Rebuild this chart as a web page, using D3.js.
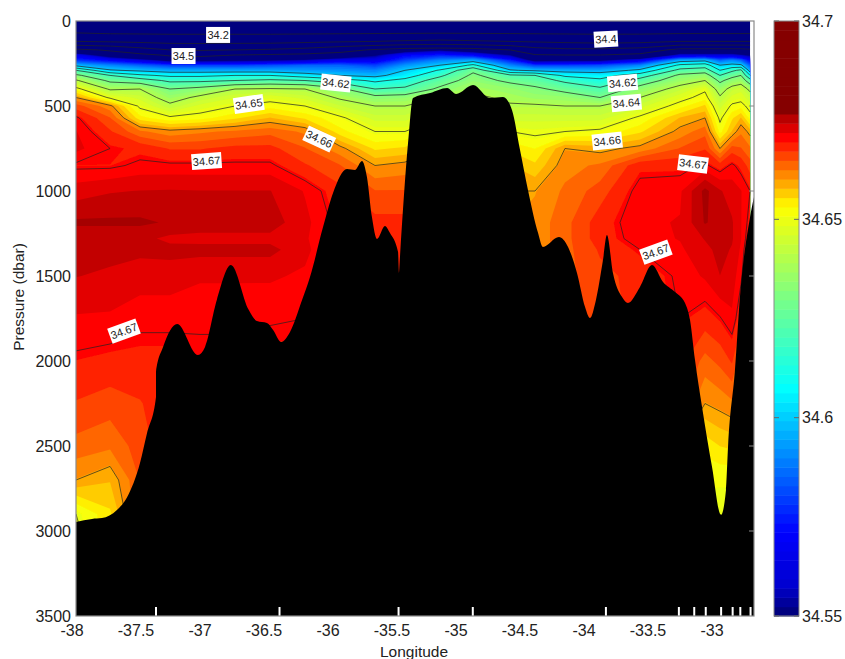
<!DOCTYPE html>
<html>
<head>
<meta charset="utf-8">
<script src="https://cdn.jsdelivr.net/npm/d3@7"></script>
<style>
  html, body { margin: 0; padding: 0; background: #fff; }
  text { font-family: "Liberation Sans", Arial, sans-serif; fill: #222; }
</style>
</head>
<body>
<div id="chart-area"></div>
<script>
// station longitudes (columns of the section)
var stationLon = [-38, -37.734, -37.5, -37.266, -37.031, -36.758, -36.484, -36.211, -35.938, -35.664, -35.43, -35.156,
  -34.898, -34.609, -34.414, -34.18, -33.906, -33.594, -33.281, -33.086, -32.969, -32.875, -32.805, -32.734];

// pressure levels (rows of the section)
var levelPressure = [0, 60, 120, 170, 200, 230, 260, 290, 320, 350, 400, 450, 500, 570, 650, 750, 850, 1000, 1185,
  1280, 1345, 1500, 1750, 2000, 2250, 2500, 2700, 2900, 3100];

// salinity, one profile per station, in 0.001 above 34
var salinityProfiles = [
  [100,180,300,520,565,578,597,620,632,641,652,660,666,670.5,672,672.5,669.5,673,677,675,675,674.3,671.6,669.5,667,664,660,650,648],
  [100,170,290,490,540,570,590,601,620,628,639,649,661,665,667.5,670,669.5,674,677,675,675,673.8,671.5,669,666,663,658,655,655],
  [100,170,280,440,520,560,585,598,612,625,640,645,649,654,663,669,670.5,674.3,677,675,674.8,673,670.5,669,667,666,665,665,665],
  [100,170,270,400,490,545,580,595,608,618,630,636,642,651,661,667,670.5,674.4,676.3,673.6,675,673,670.5,669,669,669,669,669,669],
  [100,170,270,390,480,545,580,595,608,618,633,642,647,652,662,667,670.5,674.3,675.5,673.5,675,672.2,670.3,669.5,669.5,669.5,669.5,669.5,669.5],
  [100,170,270,400,500,548,580,595,610,620,640,646,650,655,663,668,670.5,674.3,675.5,673.5,675,672.2,670.3,669.5,669.5,669.5,669.5,669.5,669.5],
  [100,170,270,410,510,550,582,595,610,622,641,648,652,658,664,668,670.5,674.3,675.5,673.5,675,672.2,670.2,669,669,669,669,669,669],
  [100,170,280,430,520,555,585,593,605,620,640,645,650,655,662,665,667.5,671.7,672.5,672.2,672.5,671.5,670,669,669,669,669,669,669],
  [100,170,290,470,530,565,585,592,600,615,632,639,644,651,654,661,665,668,669,669,669,669,669,669,669,669,669,669,669],
  [100,170,300,510,550,565,580,590,597,608,620,633,640,645,650,655,660,665,668,669,669,669,669,669,669,669,669,669,669],
  [100,170,310,540,570,580,592,600,605,613,622,634,640,645,650,656,661,665,668,668,668,668,668,668,668,668,668,668,668],
  [100,170,320,550,575,590,600,611,618,625,632,640,645,650,655,660,665,668,668,668,668,668,668,668,668,668,668,668,668],
  [100,170,310,540,570,595,612,628,632,634,638,642,645,650,655,660,664,666,666,666,666,666,666,666,666,666,666,666,666],
  [100,170,300,500,552,575,590,601,622,628,635,638,641,645,650,655,658,660,660,660,660,660,660,660,660,660,660,660,660],
  [100,170,290,440,505,545,580,598,620,625,632,636,641,645,649,653,656,660,661,661,661,661,661,661,661,661,661,661,661],
  [100,170,280,420,500,548,580,596,608,618,627,635,640,645,650,660,661.5,663,664,664,664,664,664,664,664,664,664,664,664],
  [100,170,270,420,500,548,582,595,606,612,622,630,640,645,651,659,663,666,668.5,668.5,667.5,666.5,666,666,666,666,666,666,666],
  [100,170,275,440,520,565,590,602,615,624,634,640,645,651,655,661,669,671,671.5,671,670,668,668,668,668,668,668,668,668],
  [100,170,300,530,560,595,612,623,632,636,643,648,652,658,661,665,669,671.5,672,672,671.5,670.5,670,668,666,660,655,655,655],
  [100,170,300,530,560,597,615,625,635,640,649,652,656,660,664,667,670.5,677.3,676.8,674.4,673.5,672.2,668.5,664,660,654,651,650,650],
  [100,170,300,530,560,585,600,610,620,628,636,641,645,649,652,660,668.5,674.5,675.5,675.5,675,674.2,669.8,665.5,661,655.5,651,650,649],
  [100,170,300,530,560,590,603,618,627,634,643,647,651,655,658,666,670.5,673,674.5,674.5,674,673,671.5,667.5,662,656,651,650,650],
  [100,170,300,530,555,585,602,622,630,636,645,648,652,658,662,665,669,672,672,672,671.5,670.5,668,663,656,652,650,650,650],
  [100,170,300,520,550,570,585,595,610,624,638,644,648,652,659,663,666,670,669,668,667,666,664,660,654,650,650,650,650]
];

// sea floor
var floorLon = [-38, -37.875, -37.797, -37.68, -37.6, -37.5, -37.445, -37.375, -37.375, -37.32, -37.21, -37.047, -36.992,
  -36.9, -36.79, -36.65, -36.586, -36.508, -36.46, -36.398, -36.328, -36.234, -36.172, -36.07, -35.992, -35.883, -35.82,
  -35.766, -35.727, -35.688, -35.648, -35.586, -35.547, -35.484, -35.477, -35.469, -35.406, -35.367, -35.234, -35.1,
  -35.03, -34.898, -34.766, -34.664, -34.594, -34.531, -34.469, -34.39, -34.352, -34.227, -34.156, -34.086, -34.023,
  -33.984, -33.938, -33.883, -33.852, -33.805, -33.734, -33.688, -33.594, -33.5, -33.414, -33.32, -33.242, -33.203,
  -33.164, -33.109, -33.031, -32.961, -32.922, -32.906, -32.852, -32.813, -32.734, -32.703];
var floorPressure = [2947, 2929, 2924, 2876, 2800, 2600, 2424, 2212, 2065, 1918, 1782, 1965, 1918,
  1641, 1435, 1700, 1765, 1776, 1818, 1888, 1829, 1641, 1506, 1212, 1012, 871, 876,
  824, 918, 1153, 1282, 1206, 1247, 1359, 1482, 1388, 718, 453, 424, 394,
  429, 376, 453, 447, 524, 759, 994, 1247, 1329, 1271, 1329, 1482, 1682,
  1747, 1641, 1406, 1259, 1482, 1624, 1659, 1565, 1435, 1535, 1594, 1659, 1759,
  1994, 2271, 2624, 2906, 2759, 2506, 2053, 1624, 1153, 1035];

// white ticks along the bottom, where the stations are
var stationTicks = [-37.375, -36.41, -35.48, -34.9, -33.86, -33.29, -33.17, -33.08, -32.96, -32.87, -32.81, -32.73];

// contour lines and their labels
var contourLevels = [34.2, 34.3, 34.4, 34.5, 34.6, 34.61, 34.62, 34.63, 34.64, 34.65, 34.66, 34.67];
var labelText = ["34.2", "34.5", "34.62", "34.65", "34.66", "34.67", "34.4", "34.62", "34.64", "34.66", "34.67", "34.67", "34.67"];
var labelLon = [-36.89, -37.16, -35.97, -36.65, -36.1, -36.98, -33.86, -33.73, -33.7, -33.85, -33.18, -33.47, -37.625];
var labelPressure = [82, 206, 365, 488, 694, 824, 106, 365, 482, 706, 841, 1359, 1824];
var labelAngle = [0, 0, 6, -8, 25, -4, -3, -5, -5, -6, 7, -20, -20];

var lonTicks = [-38, -37.5, -37, -36.5, -36, -35.5, -35, -34.5, -34, -33.5, -33];
var pressureTicks = [0, 500, 1000, 1500, 2000, 2500, 3000, 3500];
var colorbarTicks = [34.55, 34.6, 34.65, 34.7];

// 64 colour steps between 34.55 and 34.7
var colorStopValue = [34.55, 34.5565, 34.57, 34.606, 34.63, 34.652, 34.6695, 34.6718, 34.6742, 34.6765];
var colorStopColor = ["#00007f", "#0000d0", "#0000ff", "#00ffff", "#80ff80", "#ffff00", "#ff0000", "#e40000", "#c20000", "#a50000"];
// the bar itself is darker than the section at its top steps
var barTopValue = [34.6718, 34.6742, 34.6765];
var barTopColor = ["#dc0000", "#b80000", "#850000"];

var width = 845, height = 659;
var left = 76, right = 754, top_ = 21, bottom = 616;
var frameColor = "#8a8a8a";

var svg = d3.select("#chart-area")
  .append("svg")
    .attr("width", width)
    .attr("height", height)
    .style("display", "block");

var x = d3.scaleLinear().domain([-38, -38 + (right - left) / 128]).range([left, right]);
var y = d3.scaleLinear().domain([0, 3500]).range([top_, bottom]);

var defs = svg.append("defs");
defs.append("clipPath").attr("id", "plot-clip")
  .append("rect").attr("x", left).attr("y", top_).attr("width", right - left).attr("height", bottom - top_);
defs.append("filter").attr("id", "soft")
  .append("feGaussianBlur").attr("stdDeviation", 0.5);

// contour coordinates are grid index + 0.5, the grid is not regular
var colToLon = d3.scaleLinear().domain(stationLon.map(function(d, i) { return i + 0.5; })).range(stationLon).clamp(true);
var rowToPressure = d3.scaleLinear().domain(levelPressure.map(function(d, i) { return i + 0.5; })).range(levelPressure).clamp(true);

var path = d3.geoPath(d3.geoTransform({
  point: function(cx, cy) {
    this.stream.point(x(colToLon(cx)), y(rowToPressure(cy)));
  }
}));

var nx = stationLon.length, ny = levelPressure.length;
var values = [];
levelPressure.forEach(function(p, j) {
  stationLon.forEach(function(lon, i) {
    values.push(34 + salinityProfiles[i][j] / 1000);
  });
});
var contours = d3.contours().size([nx, ny]);

// contour rings run along the edge of the grid, the lines should not
function alongEdge(a, b) {
  return (a[0] <= 0.5 && b[0] <= 0.5) || (a[0] >= nx - 0.5 && b[0] >= nx - 0.5) ||
    (a[1] <= 0.5 && b[1] <= 0.5) || (a[1] >= ny - 0.5 && b[1] >= ny - 0.5);
}

function isolineOf(level) {
  var lines = [];
  contours.contour(values, level).coordinates.forEach(function(polygon) {
    polygon.forEach(function(ring) {
      var current = [ring[0]];
      for (var i = 1; i < ring.length; i++) {
        if (alongEdge(ring[i - 1], ring[i])) {
          if (current.length > 1) lines.push(current);
          current = [];
        }
        current.push(ring[i]);
      }
      if (current.length > 1) lines.push(current);
    });
  });
  return { type: "MultiLineString", coordinates: lines };
}

var colorScale = d3.scaleLinear().domain(colorStopValue).range(colorStopColor).clamp(true);
var bandEdges = d3.range(64).map(function(i) { return 34.55 + i * 0.15 / 64; });

function barColor(d) {
  var found = null;
  barTopValue.forEach(function(v, i) { if (d >= v) found = barTopColor[i]; });
  return found || colorScale(d);
}

var plot = svg.append("g").attr("clip-path", "url(#plot-clip)");
var field = plot.append("g").attr("filter", "url(#soft)");

// everything under 34.55 is the darkest blue
field.append("rect")
  .attr("x", x(stationLon[0])).attr("y", top_)
  .attr("width", x(stationLon[nx - 1]) - x(stationLon[0])).attr("height", bottom - top_)
  .attr("fill", colorStopColor[0]);

field.selectAll("path.band")
  .data(bandEdges)
  .enter()
  .append("path")
    .attr("class", "band")
    .attr("fill", function(d) { return colorScale(d); })
    .attr("d", function(d) { return path(contours.contour(values, d)); });

plot.selectAll("path.isoline")
  .data(contourLevels)
  .enter()
  .append("path")
    .attr("class", "isoline")
    .attr("fill", "none")
    .attr("stroke", "#222")
    .attr("stroke-width", 0.7)
    .attr("d", function(d) { return path(isolineOf(d)); });

// sea floor
var floorArea = d3.area()
  .x(function(d) { return x(d[0]); })
  .y0(y(3500))
  .y1(function(d) { return y(d[1]); })
  .curve(d3.curveMonotoneX);
plot.append("path")
  .datum(d3.zip(floorLon, floorPressure))
  .attr("fill", "#000")
  .attr("d", floorArea);

// contour labels
var labels = plot.selectAll("g.clabel")
  .data(labelText)
  .enter()
  .append("g")
    .attr("class", "clabel")
    .attr("transform", function(d, i) {
      return "translate(" + x(labelLon[i]) + "," + y(labelPressure[i]) + ") rotate(" + labelAngle[i] + ")";
    });
labels.append("rect")
  .attr("x", function(d) { return d.length > 4 ? -15 : -12; })
  .attr("y", -8)
  .attr("width", function(d) { return d.length > 4 ? 30 : 24; })
  .attr("height", 16)
  .attr("fill", "#fff");
labels.append("text")
  .attr("text-anchor", "middle")
  .attr("dy", "0.35em")
  .attr("font-size", 11)
  .text(function(d) { return d; });

// station ticks
plot.selectAll("line.station")
  .data(stationTicks)
  .enter()
  .append("line")
    .attr("class", "station")
    .attr("x1", function(d) { return x(d); })
    .attr("x2", function(d) { return x(d); })
    .attr("y1", bottom - 9)
    .attr("y2", bottom)
    .attr("stroke", "#fff")
    .attr("stroke-width", 2);

// frame
svg.append("rect")
  .attr("x", left).attr("y", top_).attr("width", right - left).attr("height", bottom - top_)
  .attr("fill", "none").attr("stroke", frameColor).attr("stroke-width", 1.2);

// axes text
svg.selectAll("text.xtick")
  .data(lonTicks)
  .enter()
  .append("text")
    .attr("class", "xtick")
    .attr("x", function(d) { return x(d) - 4; })
    .attr("y", 636)
    .attr("text-anchor", "middle")
    .attr("font-size", 16)
    .text(function(d) { return d; });

svg.selectAll("text.ytick")
  .data(pressureTicks)
  .enter()
  .append("text")
    .attr("class", "ytick")
    .attr("x", 71)
    .attr("y", function(d) { return y(d); })
    .attr("dy", "0.35em")
    .attr("text-anchor", "end")
    .attr("font-size", 16)
    .text(function(d) { return d; });

svg.selectAll("line.rtick")
  .data(pressureTicks.slice(1, -1))
  .enter()
  .append("line")
    .attr("class", "rtick")
    .attr("x1", right - 5).attr("x2", right)
    .attr("y1", function(d) { return y(d); })
    .attr("y2", function(d) { return y(d); })
    .attr("stroke", frameColor);

svg.append("text")
  .attr("x", 414).attr("y", 657)
  .attr("text-anchor", "middle").attr("font-size", 15.5)
  .text("Longitude");

svg.append("text")
  .attr("transform", "translate(24,297) rotate(-90)")
  .attr("text-anchor", "middle").attr("font-size", 15.5)
  .text("Pressure (dbar)");

// colour bar
var cbLeft = 774, cbRight = 799;
var cb = d3.scaleLinear().domain([34.55, 34.7]).range([bottom, top_]);

svg.selectAll("rect.cb")
  .data(bandEdges)
  .enter()
  .append("rect")
    .attr("class", "cb")
    .attr("x", cbLeft)
    .attr("width", cbRight - cbLeft)
    .attr("y", function(d) { return cb(d + 0.15 / 64); })
    .attr("height", function(d) { return cb(d) - cb(d + 0.15 / 64) + 0.5; })
    .attr("fill", barColor);

svg.append("rect")
  .attr("x", cbLeft).attr("y", top_).attr("width", cbRight - cbLeft).attr("height", bottom - top_)
  .attr("fill", "none").attr("stroke", frameColor).attr("stroke-width", 1);

svg.selectAll("g.cbtick")
  .data(colorbarTicks)
  .enter()
  .append("g")
    .attr("class", "cbtick")
    .each(function(d) {
      var g = d3.select(this);
      g.append("line").attr("x1", cbLeft).attr("x2", cbLeft + 5).attr("y1", cb(d)).attr("y2", cb(d)).attr("stroke", "#666");
      g.append("line").attr("x1", cbRight - 5).attr("x2", cbRight).attr("y1", cb(d)).attr("y2", cb(d)).attr("stroke", "#666");
      g.append("text")
        .attr("x", 802)
        .attr("y", cb(d))
        .attr("dy", "0.35em")
        .attr("font-size", 16)
        .text(d);
    });
</script>
</body>
</html>
